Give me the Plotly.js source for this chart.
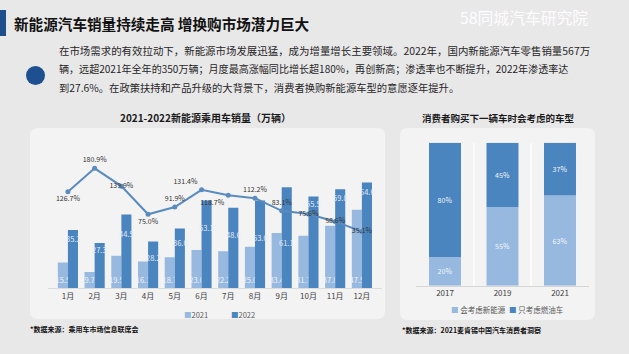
<!DOCTYPE html>
<html><head><meta charset="utf-8">
<script src="https://cdn.plot.ly/plotly-3.0.1.min.js"></script>
<style>html,body{margin:0;padding:0;background:#e9e8e9;}#chart{width:629px;height:354px;}</style>
</head><body><div id="chart"></div>
<script>
// ---- data ----
const months = ['1月','2月','3月','4月','5月','6月','7月','8月','9月','10月','11月','12月'];
const sales2021 = [15.5, 9.7, 19.5, 16.1, 18.7, 23.0, 22.2, 25.0, 33.4, 31.7, 37.8, 47.5];
const sales2022 = [35.2, 27.3, 44.5, 28.2, 36.0, 53.1, 48.6, 53.0, 61.1, 55.5, 59.8, 64.0];
const growth = [126.7, 180.9, 139.9, 75.0, 91.9, 131.4, 118.7, 112.2, 83.1, 75.6, 58.6, 35.1];
const surveyYears = ['2017', '2019', '2021'];
const considerNEV = [20, 55, 63];
const onlyFuel = [80, 45, 37];
const seriesNames = ['2021', '2022'];
const surveyNames = ['会考虑新能源', '只考虑燃油车'];

// ---- helpers / styling ----
const W = 629, H = 354;
const px = x => x / W, py = y => 1 - y / H;
const FONT = '"Noto Sans CJK SC", "Noto Sans", sans-serif';
const LIGHT = '#97b9df', DARK = '#4a85bf', LINE = '#5a8bbf';
// pixel drop of each 2022 value label below its bar top (label placement, as in the reference)
const label2022Drop = [9, 7, 19, 16, 14, 27, 27, 37, 55, 7, 8, 9];

function roundRect(x0, y0, x1, y1, r, fill) {
  const rx = r / W, ry = r / H;
  const X0 = px(x0), X1 = px(x1), Y0 = py(y0), Y1 = py(y1);
  const p = `M${X0+rx},${Y0} L${X1-rx},${Y0} Q${X1},${Y0} ${X1},${Y0-ry} L${X1},${Y1+ry} Q${X1},${Y1} ${X1-rx},${Y1} L${X0+rx},${Y1} Q${X0},${Y1} ${X0},${Y1+ry} L${X0},${Y0-ry} Q${X0},${Y0} ${X0+rx},${Y0} Z`;
  return {type:'path', xref:'paper', yref:'paper', path:p, fillcolor:fill, line:{width:0}, layer:'below'};
}

const lineTextPos = ['bottom center','top center','middle center','bottom center','top center','top left',
                     'bottom left','top center','top center','middle center','middle center','middle center'];

const traces = [
  {type:'bar', name:seriesNames[0], x:months, y:sales2021, xaxis:'x', yaxis:'y',
   marker:{color:LIGHT}, width:0.377, offset:-0.377,
   texttemplate:'%{y:.1f}', textposition:'inside', insidetextanchor:'start', textangle:0, constraintext:'none',
   textfont:{size:7.5, color:'#eef3f9', family:FONT}, showlegend:false, hoverinfo:'skip'},
  {type:'bar', name:seriesNames[1], x:months, y:sales2022, xaxis:'x', yaxis:'y',
   marker:{color:DARK}, width:0.377, offset:0, textposition:'none',
   showlegend:false, hoverinfo:'skip'},
  {type:'scatter', mode:'lines+markers+text', x:months, y:growth, xaxis:'x', yaxis:'y2',
   line:{color:LINE, width:2}, marker:{color:LINE, size:5},
   text:growth.map(v => v.toFixed(1) + '%'), textposition:lineTextPos,
   textfont:{size:7, color:'#333333', family:FONT}, showlegend:false, hoverinfo:'skip', cliponaxis:false},
  {type:'bar', name:surveyNames[0], x:surveyYears, y:considerNEV, xaxis:'x2', yaxis:'y3',
   marker:{color:LIGHT}, width:0.556,
   text:considerNEV.map(v => v + '%'), textposition:'inside', insidetextanchor:'middle', textangle:0,
   textfont:{size:7, color:'#f4f7fb', family:FONT}, showlegend:false, hoverinfo:'skip'},
  {type:'bar', name:surveyNames[1], x:surveyYears, y:onlyFuel, base:considerNEV, xaxis:'x2', yaxis:'y3',
   marker:{color:DARK}, width:0.556,
   text:onlyFuel.map(v => v + '%'), textposition:'inside', insidetextanchor:'middle', textangle:0,
   textfont:{size:7, color:'#f4f7fb', family:FONT}, showlegend:false, hoverinfo:'skip'}
];

const ann = (text, x, y, opts={}) => Object.assign({text, x:px(x), y:py(y), xref:'paper', yref:'paper',
  showarrow:false, xanchor:'left', yanchor:'middle', font:{family:FONT, size:10, color:'#1a1a1a'}}, opts);

const para = [
  '在市场需求的有效拉动下，新能源市场发展迅猛，成为增量增长主要领域。2022年，国内新能源汽车零售销量567万',
  '辆，远超2021年全年的350万辆；月度最高涨幅同比增长超180%，再创新高；渗透率也不断提升，2022年渗透率达',
  '到27.6%。在政策扶持和产品升级的大背景下，消费者换购新能源车型的意愿逐年提升。'
];
const paraSizes = [10.45, 10.05, 10.3];

const barLabels2022 = sales2022.map((v, i) => ({
  text: v.toFixed(1), x: months[i], y: v, xref:'x', yref:'y', showarrow:false,
  xanchor:'center', yanchor:'middle', xshift: 5.2, yshift: -label2022Drop[i],
  font:{family:FONT, size:7.5, color:'#e2ebf6'}
}));

const annotations = [
  ann('<b>新能源汽车销量持续走高 增换购市场潜力巨大</b>', 12, 23, {font:{family:FONT, size:14.6, color:'#111111'}}),
  ann('58同城汽车研究院', 458, 18, {font:{family:FONT, size:15.8, color:'rgba(255,255,255,0.95)'}}),
  ...para.map((t, i) => ann(t, 57, 50 + i * 18.5, {font:{family:FONT, size:paraSizes[i], color:'#262626'}})),
  ann('<b>2021-2022新能源乘用车销量（万辆）</b>', 205, 117, {xanchor:'center', font:{family:FONT, size:10, color:'#1a1a1a'}}),
  ann('<b>消费者购买下一辆车时会考虑的车型</b>', 498, 118, {xanchor:'center', font:{family:FONT, size:9.5, color:'#1a1a1a'}}),
  ann(`<span style="color:${LIGHT}">■</span>${seriesNames[0]}`, 182, 314, {font:{family:FONT, size:7.5, color:'#595959'}}),
  ann(`<span style="color:${DARK}">■</span>${seriesNames[1]}`, 229, 314, {font:{family:FONT, size:7.5, color:'#595959'}}),
  ann(`<span style="color:${LIGHT}">■</span> ${surveyNames[0]}`, 478, 309, {xanchor:'center', font:{family:FONT, size:7.5, color:'#595959'}}),
  ann(`<span style="color:${DARK}">■</span> ${surveyNames[1]}`, 536, 309, {xanchor:'center', font:{family:FONT, size:7.5, color:'#595959'}}),
  ann('<b>*数据来源：乘用车市场信息联席会</b>', 28, 329, {font:{family:FONT, size:7, color:'#111111'}}),
  ann('<b>*数据来源：2021麦肯锡中国汽车消费者洞察</b>', 400, 330, {font:{family:FONT, size:7, color:'#111111'}}),
  ...barLabels2022
];

const shapes = [
  {type:'rect', xref:'paper', yref:'paper', x0:0, x1:px(6), y0:py(36), y1:py(10), fillcolor:'#1f4e8c', line:{width:0}, layer:'below'},
  {type:'circle', xref:'paper', yref:'paper', x0:px(26), x1:px(45), y0:py(85), y1:py(66), fillcolor:'#1e4f91', line:{width:0}, layer:'below'},
  roundRect(30, 128, 385, 319, 8, '#f3f3f3'),
  roundRect(400, 128, 595, 320, 8, '#f3f3f3')
];

const layout = {
  width:W, height:H, margin:{l:0, r:0, t:0, b:0},
  paper_bgcolor:'#e9e8e9', plot_bgcolor:'rgba(0,0,0,0)',
  barmode:'overlay', showlegend:false, font:{family:FONT},
  xaxis:{domain:[px(48.1), px(381.7)], anchor:'y', type:'category', showgrid:false, zeroline:false,
         showline:true, linecolor:'#dcdcdc', linewidth:1, ticks:'', tickfont:{size:8, color:'#404040', family:FONT}},
  yaxis:{domain:[py(288), py(140)], range:[0, 89.7], visible:false, showgrid:false, zeroline:false},
  yaxis2:{overlaying:'y', range:[-94.8, 246.2], visible:false, showgrid:false, zeroline:false},
  xaxis2:{domain:[px(416.25), px(588.75)], anchor:'y3', type:'category', range:[-0.5, 2.5], tickson:'boundaries',
          showgrid:true, gridcolor:'#fbfbfb', gridwidth:2, zeroline:false, showline:true, linecolor:'#d6d6d6',
          ticks:'', tickfont:{size:8, color:'#404040', family:FONT}},
  yaxis3:{domain:[py(285.7), py(142.7)], anchor:'x2', range:[0, 100], visible:false, showgrid:false, zeroline:false},
  annotations, shapes
};

Plotly.newPlot('chart', traces, layout, {staticPlot:true, displayModeBar:false});
</script></body></html>
